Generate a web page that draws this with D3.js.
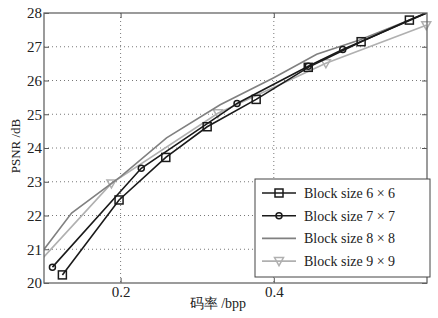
<!DOCTYPE html>
<html>
<head>
<meta charset="utf-8">
<script src="https://cdn.jsdelivr.net/npm/d3@7"></script>
<style>
  body { margin: 0; background: #fff; }
  svg { display: block; }
</style>
</head>
<body>
<svg id="chart"></svg>
<script>
// data (rate in bpp, PSNR in dB)
const seriesNames = ['Block size 6 × 6', 'Block size 7 × 7', 'Block size 8 × 8', 'Block size 9 × 9'];
const rate6 = [0.124, 0.198, 0.259, 0.313, 0.377, 0.445, 0.514, 0.577, 0.64];
const psnr6 = [20.24, 22.46, 23.72, 24.63, 25.44, 26.39, 27.15, 27.79, 28.4];
const rate7 = [0.111, 0.227, 0.352, 0.445, 0.49, 0.62];
const psnr7 = [20.47, 23.40, 25.32, 26.42, 26.92, 28.2];
const rate8 = [0.09, 0.136, 0.2, 0.26, 0.33, 0.4, 0.456, 0.512, 0.6];
const psnr8 = [20.7, 22.07, 23.15, 24.3, 25.28, 26.08, 26.78, 27.2, 28.0];
const rate9 = [0.09, 0.188, 0.327, 0.468, 0.599];
const psnr9 = [20.53, 22.95, 25.03, 26.51, 27.64];
const xTicks = [0.2, 0.4];
const yTicks = [20, 21, 22, 23, 24, 25, 26, 27, 28];

const FONT = '"Liberation Serif", "Times New Roman", "DejaVu Serif", serif';

const width = 438, height = 318;
const margin = {top: 13, right: 11, bottom: 35, left: 44};
const w = width - margin.left - margin.right;
const h = height - margin.top - margin.bottom;

const svg = d3.select('#chart').attr('width', width).attr('height', height);
const g = svg.append('g').attr('transform', `translate(${margin.left},${margin.top})`);

const x = d3.scaleLinear().domain([0.1, 0.6]).range([0, w]);
const y = d3.scaleLinear().domain([20, 28]).range([h, 0]);

// dotted grid
g.selectAll('.hgrid').data(yTicks.slice(1, -1)).join('line')
  .attr('x1', 0).attr('x2', w)
  .attr('y1', d => y(d)).attr('y2', d => y(d))
  .attr('stroke', '#555').attr('stroke-width', 0.8).attr('stroke-dasharray', '1,3');
g.selectAll('.vgrid').data(xTicks).join('line')
  .attr('y1', 0).attr('y2', h)
  .attr('x1', d => x(d)).attr('x2', d => x(d))
  .attr('stroke', '#555').attr('stroke-width', 0.8).attr('stroke-dasharray', '1,3');

// axes (ticks inside, on all sides)
const tickStyle = sel => {
  sel.attr('font-family', FONT);
  sel.select('.domain').remove();
  sel.selectAll('.tick line').attr('stroke', '#555');
  sel.selectAll('.tick text').style('font-family', FONT).style('font-size', '15px').attr('fill', '#222');
};
g.append('g').call(d3.axisLeft(y).tickValues(yTicks).tickSizeInner(-5).tickPadding(2).tickFormat(d3.format('d'))).call(tickStyle);
g.append('g').attr('transform', `translate(${w},0)`).call(d3.axisRight(y).tickValues(yTicks).tickSizeInner(-5).tickFormat('')).call(tickStyle);
g.append('g').attr('transform', `translate(0,${h})`).call(d3.axisBottom(x).tickValues(xTicks).tickSizeInner(-5).tickPadding(3).tickFormat(d3.format('.1f'))).call(tickStyle);
g.append('g').call(d3.axisTop(x).tickValues(xTicks).tickSizeInner(-5).tickFormat('')).call(tickStyle);

g.append('defs').append('clipPath').attr('id', 'plotclip')
  .append('rect').attr('width', w).attr('height', h);

const series = [
  {name: seriesNames[0], xs: rate6, ys: psnr6, color: '#1a1a1a', marker: 'square'},
  {name: seriesNames[1], xs: rate7, ys: psnr7, color: '#1a1a1a', marker: 'circle'},
  {name: seriesNames[2], xs: rate8, ys: psnr8, color: '#808080', marker: null},
  {name: seriesNames[3], xs: rate9, ys: psnr9, color: '#b0b0b0', marker: 'tri'}
];

const line = d3.line().x(d => x(d[0])).y(d => y(d[1]));

function drawMarker(sel, type, color) {
  if (type === 'square') {
    sel.append('rect').attr('x', -4).attr('y', -4).attr('width', 8).attr('height', 8)
      .attr('fill', 'none').attr('stroke', color).attr('stroke-width', 1.5);
  } else if (type === 'circle') {
    sel.append('circle').attr('r', 3).attr('fill', 'none').attr('stroke', color).attr('stroke-width', 1.5);
  } else if (type === 'tri') {
    sel.append('path').attr('d', 'M-4.5,-3.5L4.5,-3.5L0,4.5Z')
      .attr('fill', 'none').attr('stroke', color).attr('stroke-width', 1.5);
  }
}

// draw back to front: 9x9, 8x8, 7x7, 6x6
series.slice().reverse().forEach(s => {
  const pts = s.xs.map((v, i) => [v, s.ys[i]]);
  g.append('path').datum(pts)
    .attr('clip-path', 'url(#plotclip)')
    .attr('d', line)
    .attr('fill', 'none').attr('stroke', s.color).attr('stroke-width', 1.6);
  if (s.marker) {
    pts.filter(p => p[0] >= 0.1 && p[0] <= 0.6 && p[1] <= 28).forEach(p => {
      const m = g.append('g').attr('transform', `translate(${x(p[0])},${y(p[1])})`);
      drawMarker(m, s.marker, s.color);
    });
  }
});

// plot box
g.append('rect').attr('width', w).attr('height', h)
  .attr('fill', 'none').attr('stroke', '#666').attr('stroke-width', 1.3);

// legend
const lg = svg.append('g').attr('transform', 'translate(255,179)');
lg.append('rect').attr('width', 175).attr('height', 98)
  .attr('fill', '#fff').attr('stroke', '#444').attr('stroke-width', 1);
series.forEach((s, i) => {
  const yy = 14 + i * 22.7;
  lg.append('line').attr('x1', 7).attr('x2', 41).attr('y1', yy).attr('y2', yy)
    .attr('stroke', s.color).attr('stroke-width', 1.6);
  if (s.marker) {
    drawMarker(lg.append('g').attr('transform', `translate(24,${yy})`), s.marker, s.color);
  }
  lg.append('text').attr('x', 49).attr('y', yy).attr('dy', '0.35em')
    .style('font-family', FONT).style('font-size', '14px').attr('fill', '#222')
    .text(s.name);
});

// axis titles
svg.append('text')
  .attr('x', margin.left + x(0.327)).attr('y', 303).attr('dy', '0.35em')
  .attr('text-anchor', 'middle')
  .style('font-family', FONT).style('font-size', '14px').attr('fill', '#222')
  .text('码率 /bpp');
svg.append('text')
  .attr('transform', `translate(15,146) rotate(-90)`)
  .attr('dy', '0.35em').attr('text-anchor', 'middle')
  .style('font-family', FONT).style('font-size', '13px').attr('fill', '#222')
  .text('PSNR /dB');
</script>
</body>
</html>
